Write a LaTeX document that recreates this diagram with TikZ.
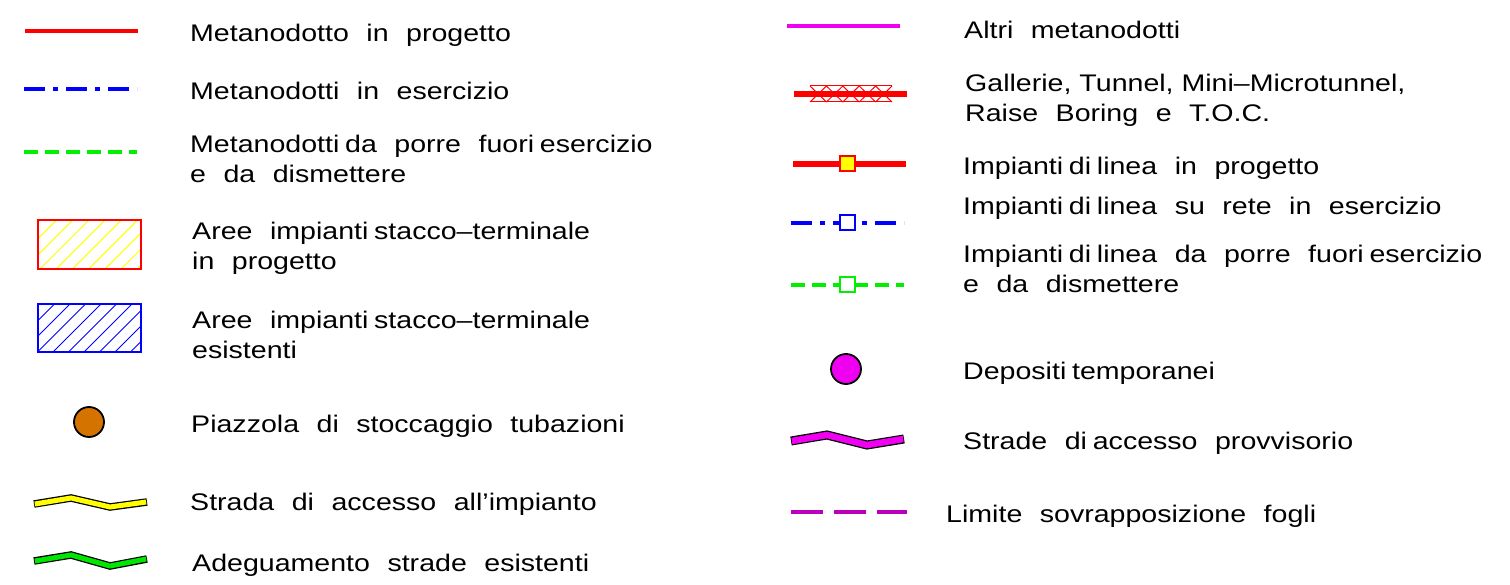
\documentclass[tikz,border=0pt]{standalone}
\usepackage{fontspec}
\setmainfont{Liberation Sans}[FakeStretch=1.19]
\definecolor{lgred}{RGB}{255,0,0}
\definecolor{lgblue}{RGB}{0,0,255}
\definecolor{lggreen}{RGB}{0,240,0}
\definecolor{lgyellow}{RGB}{255,255,0}
\definecolor{lgbrown}{RGB}{212,115,0}
\definecolor{lgmag}{RGB}{240,0,240}
\definecolor{lgpurple}{RGB}{187,0,187}
\definecolor{lgroadgreen}{RGB}{0,230,0}
\newcommand{\legW}{\hspace{0.73em}}
\newcommand{\legN}{\hspace{0.24em}}
\tikzset{
  lbl/.style={anchor=base west, inner sep=0pt, align=left, font=\fontsize{24}{30}\selectfont},
  solidred/.style={lgred, line width=4pt},
  dashdotblue/.style={lgblue, line width=4pt, dash pattern=on 21pt off 8pt on 5pt off 8pt},
  dashgreen/.style={lggreen, line width=4pt, dash pattern=on 14pt off 7pt},
  roadout/.style={black, line width=7.5pt, line join=miter},
  sqbox/.style={draw, line width=2pt, minimum size=15pt, inner sep=0pt},
  dot/.style={circle, draw=black, line width=1.8pt, minimum size=30pt, inner sep=0pt}
}
\begin{document}
\begin{tikzpicture}[x=1pt,y=-1pt]
\useasboundingbox (0,0) rectangle (1510,585);
% ---------- left column ----------
\draw[solidred] (25,31) -- (138,31);
\node[lbl] (t1) at (190,42) {Metanodotto\legW in\legW progetto};
\draw[dashdotblue] (24,89) -- (137,89);
\node[lbl] (t2) at (190,100) {Metanodotti\legW in\legW esercizio};
\draw[dashgreen] (24,152) -- (137,152);
% base anchor of a multi-line node = last line's baseline
\node[lbl] (t3) at (190,183) {Metanodotti\legN da\legW porre\legW fuori\legN esercizio\\e\legW da\legW dismettere};
% hatched rect yellow
\begin{scope}
\clip (38,220) rectangle (141,269);
\foreach \i in {-4,...,7} \draw[lgyellow, line width=1pt] (40+\i*16.2,269) -- ++(49,-49);
\end{scope}
\draw[lgred, line width=2pt] (38,220) rectangle (141,269);
\node[lbl] (t4) at (192,270) {Aree\legW impianti\legN stacco–terminale\\in\legW progetto};
% hatched rect blue
\begin{scope}
\clip (38,304) rectangle (141,352);
\foreach \i in {-4,...,7} \draw[lgblue, line width=1pt] (37.5+\i*15.5,352) -- ++(48,-48);
\end{scope}
\draw[lgblue, line width=2pt] (38,304) rectangle (141,352);
\node[lbl] (t5) at (192,358) {Aree\legW impianti\legN stacco–terminale\\esistenti};
% brown circle
\node[dot, fill=lgbrown] (c1) at (89,422) {};
\node[lbl] (t6) at (191,432) {Piazzola\legW di\legW stoccaggio\legW tubazioni};
% yellow road
\draw[roadout] (34,504) -- (71,498) -- (110,507) -- (147,502);
\draw[lgyellow, line width=5pt, line join=miter] (34.8,504) -- (71,498) -- (110,507) -- (146.2,502);
\node[lbl] (t7) at (190,510) {Strada\legW di\legW accesso\legW all’impianto};
% green road
\draw[roadout] (34,561) -- (71,555) -- (110,566) -- (147,559);
\draw[lgroadgreen, line width=5pt, line join=miter] (34.8,561) -- (71,555) -- (110,566) -- (146.2,559);
\node[lbl] (t8) at (192,571) {Adeguamento\legW strade\legW esistenti};
% ---------- right column ----------
\draw[lgmag, line width=4pt] (787,26) -- (900,26);
\node[lbl] (r1) at (964,39) {Altri\legW metanodotti};
% tunnel
\draw[lgred, line width=6pt] (794,94) -- (907,94);
\draw[lgred, line width=1pt] (810,86) -- (892,86) (810,102) -- (892,102);
\foreach \i in {0,...,4} {
  \draw[lgred, line width=1pt] (810+\i*16.4,86) -- ++(16.4,16);
  \draw[lgred, line width=1pt] (810+\i*16.4,102) -- ++(16.4,-16);
}
\node[lbl] (r2) at (965,122) {Gallerie, Tunnel, Mini–Microtunnel,\\Raise\legW Boring\legW e\legW T.O.C.};
% impianti in progetto
\draw[lgred, line width=6pt] (793,164) -- (906,164);
\node[sqbox, draw=lgred, fill=lgyellow] (s1) at (847,164) {};
\node[lbl] (r3) at (963,175) {Impianti\legN di\legN linea\legW in\legW progetto};
% impianti esercizio
\draw[dashdotblue] (791,223) -- (904,223);
\node[sqbox, draw=lgblue, fill=white] (s2) at (847,223) {};
\node[lbl] (r4) at (963,215) {Impianti\legN di\legN linea\legW su\legW rete\legW in\legW esercizio};
% impianti dismettere
\draw[dashgreen] (791,285) -- (904,285);
\node[sqbox, draw=lggreen, fill=white] (s3) at (847,285) {};
\node[lbl] (r5) at (963,293) {Impianti\legN di\legN linea\legW da\legW porre\legW fuori\legN esercizio\\e\legW da\legW dismettere};
% depositi
\node[dot, fill=lgmag] (c2) at (846,369) {};
\node[lbl] (r6) at (963,379) {Depositi\legN temporanei};
% magenta road
\draw[black, line width=9pt, line join=miter] (791,441) -- (827,435) -- (867,445) -- (904,439);
\draw[lgmag, line width=6.5pt, line join=miter] (791.8,441) -- (827,435) -- (867,445) -- (903.2,439);
\node[lbl] (r7) at (963,449) {Strade\legW di\legN accesso\legW provvisorio};
% limite
\draw[lgpurple, line width=4pt, dash pattern=on 32pt off 11pt] (791,512) -- (907,512);
\node[lbl] (r8) at (946,522) {Limite\legW sovrapposizione\legW fogli};
\end{tikzpicture}
\end{document}
